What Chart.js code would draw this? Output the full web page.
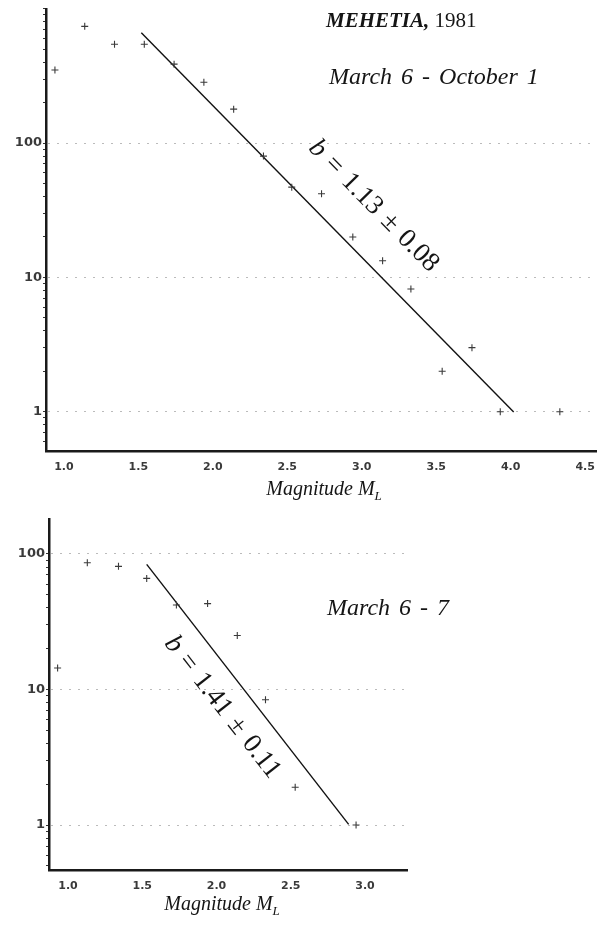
<!DOCTYPE html>
<html>
<head>
<meta charset="utf-8">
<script src="https://cdn.jsdelivr.net/npm/chart.js@4.4.0/dist/chart.umd.min.js"></script>
<style>
    body { margin: 0; background: #fff; }
    #wrap { position: relative; width: 605px; height: 925px; overflow: hidden; }
    canvas { position: absolute; left: 0; }
    #chartLong { top: 0; }
    #chartShort { top: 500px; }
    .txt {
        position: absolute;
        font-family: "Liberation Serif", "DejaVu Serif", serif;
        color: #151515;
        white-space: nowrap;
        transform: translateY(-50%);
        line-height: 1;
    }
    .title { font-size: 21px; }
    .sub { font-size: 24px; font-style: italic; word-spacing: 3px; }
    .axis-title { font-size: 20px; font-style: italic; transform: translate(-50%, -50%); }
    .axis-title sub { font-size: 13px; vertical-align: -5px; }
</style>
</head>
<body>
<div id="wrap">
    <canvas id="chartLong" width="605" height="500"></canvas>
    <canvas id="chartShort" width="605" height="425"></canvas>

    <div class="txt title" style="left:326px; top:20px;"><b><i>MEHETIA,</i></b> 1981</div>
    <div class="txt sub" style="left:329px; top:76px;">March 6 - October 1</div>
    <div class="txt axis-title" style="left:324px; top:490px;">Magnitude M<sub>L</sub></div>

    <div class="txt sub" style="left:327px; top:607px;">March 6 - 7</div>
    <div class="txt axis-title" style="left:222px; top:905px;">Magnitude M<sub>L</sub></div>
</div>

<script>
// tick labels
const xTicksLong = [1.0, 1.5, 2.0, 2.5, 3.0, 3.5, 4.0, 4.5];
const xTicksShort = [1.0, 1.5, 2.0, 2.5, 3.0];
const yLabelValues = [1, 10, 100];

// March 6 - October 1: number of events per magnitude bin
const magLong = [0.94, 1.14, 1.34, 1.54, 1.74, 1.94, 2.14, 2.34, 2.53, 2.73, 2.94, 3.14, 3.33, 3.54, 3.74, 3.93, 4.33];
const countLong = [350, 740, 545, 545, 387, 284, 179, 80, 47, 42, 20, 13.3, 8.2, 2, 3, 1, 1];
const bLong = 1.13;
const bErrLong = 0.08;
const aLong = 4.54;
const fitRangeLong = [1.52, 4.02];

// March 6 - 7
const magShort = [0.93, 1.13, 1.34, 1.53, 1.73, 1.94, 2.14, 2.33, 2.53, 2.94];
const countShort = [14.4, 86, 81, 66, 42, 43, 25, 8.4, 1.9, 1];
const bShort = 1.41;
const bErrShort = 0.11;
const aShort = 4.08;
const fitRangeShort = [1.53, 2.89];

const serif = '"Liberation Serif", "DejaVu Serif", serif';
const tickFont = { family: '"DejaVu Sans", sans-serif', weight: 'bold' };

// log N = a - b M, drawn between the ends of the fitted range
function fitPoints(a, b, range) {
    return range.map(m => ({ x: m, y: Math.pow(10, a - b * m) }));
}

// writes "b = ... ± ..." parallel to the fitted line
const fitLabel = {
    id: 'fitLabel',
    afterDatasetsDraw(chart, args, opts) {
        const { ctx, scales: { x, y } } = chart;
        const ends = fitPoints(opts.a, opts.b, opts.range);
        const x0 = x.getPixelForValue(ends[0].x), y0 = y.getPixelForValue(ends[0].y);
        const x1 = x.getPixelForValue(ends[1].x), y1 = y.getPixelForValue(ends[1].y);
        const angle = Math.atan2(y1 - y0, x1 - x0);
        const cx = x.getPixelForValue(opts.at[0]);
        const cy = y.getPixelForValue(opts.at[1]);

        const italic = `italic ${opts.size}px ${serif}`;
        const upright = `${opts.size}px ${serif}`;
        const gap = opts.size * 0.33;
        // pieces set with math spacing around the relations
        const parts = [
            { t: 'b', f: italic },
            { t: '=', f: upright },
            { t: opts.b.toFixed(2), f: upright },
            { t: '±', f: upright },
            { t: opts.err.toFixed(2), f: upright }
        ];

        ctx.save();
        ctx.translate(cx, cy);
        ctx.rotate(angle);
        ctx.fillStyle = '#151515';
        ctx.textBaseline = 'middle';
        let total = gap * (parts.length - 1);
        parts.forEach(p => { ctx.font = p.f; p.w = ctx.measureText(p.t).width; total += p.w; });
        let pos = -total / 2;
        parts.forEach(p => {
            ctx.font = p.f;
            ctx.fillText(p.t, pos, 0);
            pos += p.w + gap;
        });
        ctx.restore();
    }
};

function makeChart(id, cfg) {
    const ctx = document.getElementById(id).getContext('2d');
    return new Chart(ctx, {
        type: 'scatter',
        data: {
            datasets: [
                {
                    data: cfg.mags.map((m, i) => ({ x: m, y: cfg.counts[i] })),
                    pointStyle: 'cross',
                    pointRadius: 3.5,
                    borderColor: '#3a3a3a',
                    borderWidth: 1.1
                },
                {
                    data: fitPoints(cfg.a, cfg.b, cfg.range),
                    showLine: true,
                    pointRadius: 0,
                    borderColor: '#111',
                    borderWidth: 1.4
                }
            ]
        },
        plugins: [fitLabel],
        options: {
            responsive: false,
            animation: false,
            events: [],
            layout: { padding: cfg.padding },
            plugins: {
                legend: { display: false },
                tooltip: { enabled: false },
                fitLabel: { a: cfg.a, b: cfg.b, err: cfg.err, range: cfg.range, at: cfg.labelAt, size: 27 }
            },
            scales: {
                x: {
                    type: 'linear',
                    min: cfg.xMin,
                    max: cfg.xMax,
                    afterBuildTicks(scale) {
                        scale.ticks = cfg.xTicks.map(v => ({ value: v }));
                    },
                    afterFit(scale) { scale.height = cfg.xAxisHeight; },
                    ticks: {
                        autoSkip: false,
                        maxRotation: 0,
                        padding: 10,
                        color: '#3a3a3a',
                        font: { ...tickFont, size: 11 },
                        callback: v => v.toFixed(1)
                    },
                    grid: { color: 'rgba(0,0,0,0)', drawTicks: false },
                    border: { color: '#1a1a1a', width: 2.5 }
                },
                y: {
                    type: 'logarithmic',
                    min: cfg.yMin,
                    max: cfg.yMax,
                    afterBuildTicks(scale) {
                        const ticks = [];
                        for (let p = -1; p <= 3; p++) {
                            for (let k = 1; k <= 9; k++) {
                                const v = k * Math.pow(10, p);
                                if (v >= cfg.yMin && v <= cfg.yMax) ticks.push({ value: v });
                            }
                        }
                        scale.ticks = ticks;
                    },
                    afterFit(scale) { scale.width = cfg.yAxisWidth; },
                    ticks: {
                        autoSkip: false,
                        padding: 1,
                        color: '#3a3a3a',
                        font: { ...tickFont, size: 13 },
                        callback: v => yLabelValues.includes(v) ? String(v) : ''
                    },
                    grid: {
                        color: c => (c.tick && yLabelValues.includes(c.tick.value)) ? '#777' : 'rgba(0,0,0,0)',
                        tickColor: '#333',
                        tickLength: 3,
                        tickBorderDash: [10, 0],
                        lineWidth: 1
                    },
                    border: { color: '#1a1a1a', width: 2.5, dash: [1, 8], dashOffset: -10 }
                }
            }
        }
    });
}

makeChart('chartLong', {
    mags: magLong, counts: countLong,
    a: aLong, b: bLong, err: bErrLong, range: fitRangeLong,
    labelAt: [3.08, 34],
    xTicks: xTicksLong, xMin: 0.88, xMax: 4.574,
    yMin: 0.51, yMax: 1000,
    xAxisHeight: 49, yAxisWidth: 46,
    padding: { top: 8, left: 0, right: 3, bottom: 0 }
});

makeChart('chartShort', {
    mags: magShort, counts: countShort,
    a: aShort, b: bShort, err: bErrShort, range: fitRangeShort,
    labelAt: [2.04, 7.4],
    xTicks: xTicksShort, xMin: 0.872, xMax: 3.283,
    yMin: 0.466, yMax: 181,
    xAxisHeight: 55, yAxisWidth: 49,
    padding: { top: 19, left: 0, right: 198, bottom: 0 }
});
</script>
</body>
</html>
